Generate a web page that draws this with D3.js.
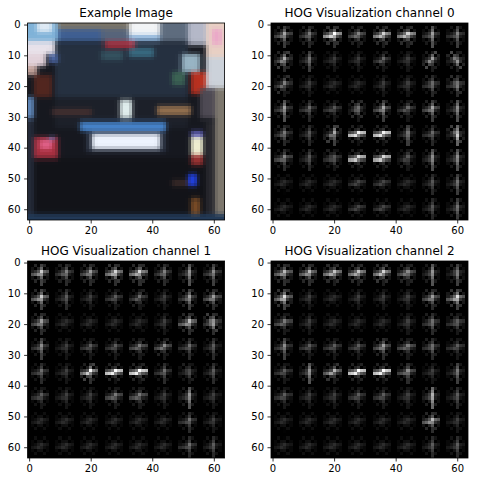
<!DOCTYPE html>
<html><head><meta charset="utf-8">
<script src="https://cdn.jsdelivr.net/npm/d3@7"></script>
<style>
body{margin:0;background:#fff}
svg{display:block}
text{font-family:"DejaVu Sans",sans-serif;fill:#000}
</style>
</head><body>
<svg id="chart" width="478" height="482"></svg>
<script>
// ---------- data ----------
const titles = ["Example Image", "HOG Visualization channel 0", "HOG Visualization channel 1", "HOG Visualization channel 2"];
const xTicks = [0, 20, 40, 60];
const yTicks = [0, 10, 20, 30, 40, 50, 60];
const imageSize = 64;
const cellSize = 8;
const orientations = 9;

// Example image: painted regions [col0,row0,col1,row1,color] (pixel coords, end exclusive)
const imgRegions = [
  [0,0,64,64,"#16181f"],
  [9,7,52,24,"#253040"],
  [9,24,52,34,"#1c2029"],
  [0,44,64,62,"#121318"],
  [0,0,10,6,"#7fb2d8"],
  [3,0,8,3,"#dfeaf4"],
  [10,0,34,2,"#7a7468"],
  [10,2,24,6,"#3f5f92"],
  [24,2,33,6,"#56647a"],
  [33,0,43,4,"#f2f4f6"],
  [33,4,43,6,"#8cb4dc"],
  [43,0,52,6,"#5e6c7e"],
  [52,0,58,7,"#b4b8c8"],
  [58,0,64,11,"#e8d0c4"],
  [60,2,63,7,"#eaa8c8"],
  [9,6,52,7,"#1e2634"],
  [25,6,35,8,"#a82a38"],
  [0,6,9,10,"#e8e2ea"],
  [0,10,6,14,"#e2d2da"],
  [0,14,3,17,"#c0a098"],
  [7,10,10,13,"#4a64a0"],
  [2,17,8,24,"#52261f"],
  [24,9,31,12,"#34525f"],
  [33,8,41,11,"#386a80"],
  [50,10,56,16,"#98b4c4"],
  [47,16,51,20,"#3c6454"],
  [53,16,58,23,"#b8301f"],
  [58,11,64,21,"#ccd2da"],
  [56,21,64,31,"#4e4a54"],
  [61,21,64,64,"#7e786e"],
  [0,24,2,31,"#5e86b8"],
  [0,31,2,62,"#242a38"],
  [8,28,21,30,"#463030"],
  [42,27,53,30,"#94704e"],
  [30,25,34,31,"#e2f0f0"],
  [17,32,45,35,"#4684cc"],
  [19,35,45,42,"#2a3242"],
  [21,36,43,41,"#eef4fe"],
  [2,37,10,44,"#a83040"],
  [4,38,8,41,"#e06088"],
  [7,37,9,38,"#8080c0"],
  [53,35,57,37,"#5c5cb4"],
  [53,37,57,43,"#f0f0d2"],
  [53,43,57,46,"#983030"],
  [47,51,52,53,"#3a2a28"],
  [52,49,55,53,"#2040e0"],
  [53,57,56,63,"#7a4c26"],
  [58,32,61,64,"#28282e"],
  [0,62,64,64,"#223a58"]
];

// HOG cells: per cell "VHAB" = vertical, horizontal, "/" diagonal, "\" diagonal strength (0-9)
const hogChannel0 = [
  "3322 2222 2722 1322 1622 1622 4211 3211",
  "2242 3111 1111 1111 1221 1111 1151 1115",
  "1231 1111 0111 0111 1111 1111 2212 2213",
  "4211 2211 1211 1133 3322 1221 3322 4111",
  "2222 2111 3141 0900 0900 3111 2211 5114",
  "2311 2111 1212 0800 0800 1121 4111 4111",
  "0111 0111 0111 0211 0211 0111 2111 3111",
  "0111 0111 0111 0211 0211 0111 2111 3111"
];
const hogChannel1 = [
  "3422 2222 2322 2523 2522 2222 4111 3211",
  "3422 2111 1111 1211 1221 1111 3222 2322",
  "2322 0111 0111 0111 0111 1111 2422 2224",
  "3211 1111 1211 1211 1311 1321 2211 2111",
  "2211 1111 2541 0900 0900 2211 1112 2111",
  "1211 1111 1111 1311 1311 1111 4111 1111",
  "0111 0111 0111 0111 0111 0111 2211 1111",
  "0111 0111 0111 0111 0111 0111 2211 2111"
];
const hogChannel2 = [
  "2422 2422 1522 1522 1532 1322 4111 3112",
  "3433 1111 0111 1111 1111 1111 2322 3433",
  "1311 1111 0111 0111 0111 1111 2212 1212",
  "3211 1211 1211 1211 2322 1311 2212 1211",
  "1211 4111 1431 0900 0900 2311 1111 3111",
  "1211 1111 1111 1211 1211 1111 5111 2111",
  "0111 0111 0111 0111 0111 0111 2422 1111",
  "0111 0111 0111 0111 0111 0111 2111 2111"
];

// ---------- layout ----------
const W = 478, H = 482;
const axSize = 197;
const panels = [
  {x: 27.6, y: 23},
  {x: 271, y: 23},
  {x: 27.6, y: 261},
  {x: 271, y: 261}
];

const svg = d3.select("#chart");
svg.append("rect").attr("width", W).attr("height", H).attr("fill", "#fff");

// ---------- helpers ----------
function skLine(r0, c0, r1, c1) {
  // Bresenham, as skimage.draw.line
  let steep = false, r = r0, c = c0;
  let dr = Math.abs(r1 - r0), dc = Math.abs(c1 - c0);
  let sr = (r1 - r0) > 0 ? 1 : -1, sc = (c1 - c0) > 0 ? 1 : -1;
  if (dr > dc) { steep = true; [c, r] = [r, c]; [dc, dr] = [dr, dc]; [sc, sr] = [sr, sc]; }
  let d = 2 * dr - dc;
  const pts = [];
  for (let i = 0; i < dc; i++) {
    pts.push(steep ? [c, r] : [r, c]);
    while (d >= 0) { r += sr; d -= 2 * dc; }
    c += sc; d += 2 * dr;
  }
  pts.push([r1, c1]);
  return pts;
}

function hogImage(rows) {
  const img = new Float64Array(imageSize * imageSize);
  const radius = Math.floor(cellSize / 2) - 1;
  rows.forEach((rowStr, r) => {
    rowStr.split(" ").forEach((code, c) => {
      const [V, Hz, A, B] = code.split("").map(Number);
      const base = 0.1 * Math.max(V, Hz, A, B);
      // star glyph: strength per orientation bin (0°,20°,...,160°)
      const bins = [V, .3*A, .3*A, .3*A, Hz, .3*Hz, .3*B, .3*B, .3*B].map(v => v + base);
      const cy = r * cellSize + Math.floor(cellSize / 2), cx = c * cellSize + Math.floor(cellSize / 2);
      for (let o = 0; o < orientations; o++) {
        const ang = Math.PI * o / orientations;
        const dx = radius * Math.cos(ang), dy = radius * Math.sin(ang);
        skLine(Math.trunc(cy - dx), Math.trunc(cx + dy), Math.trunc(cy + dx), Math.trunc(cx - dy))
          .forEach(([y, x]) => { if (y >= 0 && y < 64 && x >= 0 && x < 64) img[y * 64 + x] += bins[o]; });
      }
    });
  });
  const mx = d3.max(img);
  const cells = [];
  for (let y = 0; y < 64; y++) for (let x = 0; x < 64; x++) {
    const v = img[y * 64 + x] / mx;
    if (v > 0.004) cells.push({row: y, col: x, fill: d3.rgb(v * 255, v * 255, v * 255).toString()});
  }
  return cells;
}

function exampleImage() {
  let px = [];
  for (let i = 0; i < 64 * 64; i++) px.push([0, 0, 0]);
  imgRegions.forEach(([c0, r0, c1, r1, col]) => {
    const k = d3.rgb(col);
    for (let y = r0; y < r1; y++) for (let x = c0; x < c1; x++) px[y * 64 + x] = [k.r, k.g, k.b];
  });
  // soften edges like the low-resolution source (two light passes)
  const kern = [[0,0,4],[1,0,1],[-1,0,1],[0,1,1],[0,-1,1]];
  for (let pass = 0; pass < 2; pass++) {
    const nx = [];
    for (let y = 0; y < 64; y++) for (let x = 0; x < 64; x++) {
      let acc = [0, 0, 0], w = 0;
      kern.forEach(([dy, dx, wt]) => {
        const yy = y + dy, xx = x + dx;
        if (yy >= 0 && yy < 64 && xx >= 0 && xx < 64) {
          const p = px[yy * 64 + xx];
          acc[0] += p[0] * wt; acc[1] += p[1] * wt; acc[2] += p[2] * wt; w += wt;
        }
      });
      nx.push([acc[0] / w, acc[1] / w, acc[2] / w]);
    }
    px = nx;
  }
  const out = [];
  for (let y = 0; y < 64; y++) for (let x = 0; x < 64; x++) {
    const p = px[y * 64 + x];
    out.push({row: y, col: x, fill: d3.rgb(p[0], p[1], p[2]).toString()});
  }
  return out;
}

// ---------- draw panels ----------
const panelData = [exampleImage(), hogImage(hogChannel0), hogImage(hogChannel1), hogImage(hogChannel2)];

panels.forEach((p, i) => {
  const x = d3.scaleLinear().domain([-0.5, 63.5]).range([p.x, p.x + axSize]);
  const y = d3.scaleLinear().domain([-0.5, 63.5]).range([p.y, p.y + axSize]);
  const g = svg.append("g");

  g.append("rect").attr("x", p.x).attr("y", p.y).attr("width", axSize).attr("height", axSize)
    .attr("fill", "#000");

  g.append("g").attr("shape-rendering", "crispEdges")
    .selectAll("rect").data(panelData[i]).join("rect")
    .attr("x", d => x(d.col - 0.5))
    .attr("y", d => y(d.row - 0.5))
    .attr("width", d => x(d.col + 0.5) - x(d.col - 0.5) + 0.05)
    .attr("height", d => y(d.row + 0.5) - y(d.row - 0.5) + 0.05)
    .attr("fill", d => d.fill);

  g.append("rect").attr("x", p.x).attr("y", p.y).attr("width", axSize).attr("height", axSize)
    .attr("fill", "none").attr("stroke", "#000").attr("stroke-width", 0.8);

  const xa = g.append("g").attr("transform", `translate(0,${p.y + axSize})`)
    .call(d3.axisBottom(x).tickValues(xTicks).tickSize(3.5).tickPadding(3.5).tickFormat(d3.format("d")));
  const ya = g.append("g").attr("transform", `translate(${p.x},0)`)
    .call(d3.axisLeft(y).tickValues(yTicks).tickSize(3.5).tickPadding(3.5).tickFormat(d3.format("d")));
  [xa, ya].forEach(a => {
    a.select(".domain").remove();
    a.selectAll("line").attr("stroke", "#000").attr("stroke-width", 0.8);
    a.selectAll("text").attr("font-family", "DejaVu Sans").attr("font-size", 10).attr("fill", "#000");
  });

  g.append("text").attr("x", p.x + axSize / 2).attr("y", p.y - 6)
    .attr("text-anchor", "middle").attr("font-size", 12).text(titles[i]);
});
</script>
</body></html>
